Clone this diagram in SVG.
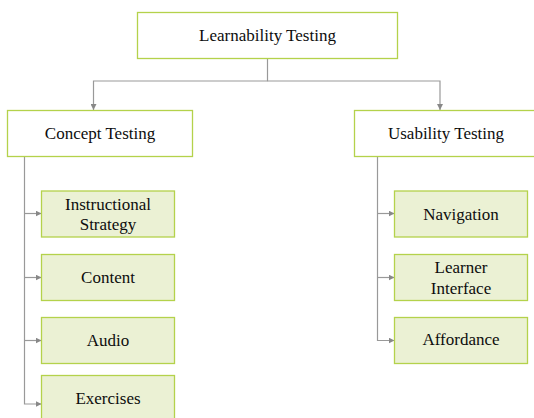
<svg xmlns="http://www.w3.org/2000/svg" width="534" height="418" viewBox="0 0 534 418">
  <style>
    .box { stroke: #b4d24b; stroke-width: 1.3; }
    .main { fill: #ffffff; }
    .sub { fill: #ebf1d4; }
    .lbl { font-size: 17px; fill: #0d0d0d; text-anchor: middle; }
    .ln { fill: none; stroke: #999999; stroke-width: 1.2; }
  </style>
  <defs>
    <marker id="arrow" viewBox="0 0 6 6" refX="6" refY="3" markerWidth="6" markerHeight="6" markerUnits="userSpaceOnUse" orient="auto">
      <path d="M0,0 L6,3 L0,6 Z" fill="#888888"/>
    </marker>
  </defs>

  <g id="connectors">
    <path class="ln" d="M267.5,58.5 V81 H93.5 V110" marker-end="url(#arrow)"/>
    <path class="ln" d="M267.5,81 H440 V110" marker-end="url(#arrow)"/>
    <path class="ln" d="M24.5,156 V404 H41.5" marker-end="url(#arrow)"/>
    <path class="ln" d="M24.5,213.5 H41.5" marker-end="url(#arrow)"/>
    <path class="ln" d="M24.5,277.5 H41.5" marker-end="url(#arrow)"/>
    <path class="ln" d="M24.5,340.5 H41.5" marker-end="url(#arrow)"/>
    <path class="ln" d="M377.5,156 V340.5 H394.5" marker-end="url(#arrow)"/>
    <path class="ln" d="M377.5,213.5 H394.5" marker-end="url(#arrow)"/>
    <path class="ln" d="M377.5,277.5 H394.5" marker-end="url(#arrow)"/>
  </g>

  <g font-family="'Liberation Serif', 'DejaVu Serif', serif">
    <g id="learnability-testing">
      <rect class="box main" x="137.5" y="12.5" width="260" height="46"/>
      <text class="lbl" x="267.5" y="41">Learnability Testing</text>
    </g>
    <g id="concept-testing">
      <rect class="box main" x="7.5" y="110.5" width="185" height="46"/>
      <text class="lbl" x="100" y="138.5">Concept Testing</text>
    </g>
    <g id="usability-testing">
      <rect class="box main" x="354.5" y="110.5" width="185" height="46"/>
      <text class="lbl" x="446" y="138.5">Usability Testing</text>
    </g>

    <g id="instructional-strategy">
      <rect class="box sub" x="41.5" y="191" width="133" height="46"/>
      <text class="lbl" x="108" y="209.5">Instructional</text>
      <text class="lbl" x="108" y="230">Strategy</text>
    </g>
    <g id="content">
      <rect class="box sub" x="41.5" y="254.5" width="133" height="46"/>
      <text class="lbl" x="108" y="283">Content</text>
    </g>
    <g id="audio">
      <rect class="box sub" x="41.5" y="317.5" width="133" height="46"/>
      <text class="lbl" x="108" y="346">Audio</text>
    </g>
    <g id="exercises">
      <rect class="box sub" x="41.5" y="375.5" width="133" height="46"/>
      <text class="lbl" x="108" y="403.5">Exercises</text>
    </g>

    <g id="navigation">
      <rect class="box sub" x="394.5" y="191" width="133" height="46"/>
      <text class="lbl" x="461" y="219.5">Navigation</text>
    </g>
    <g id="learner-interface">
      <rect class="box sub" x="394.5" y="254.5" width="133" height="46"/>
      <text class="lbl" x="461" y="272.5">Learner</text>
      <text class="lbl" x="461" y="293.5">Interface</text>
    </g>
    <g id="affordance">
      <rect class="box sub" x="394.5" y="317.5" width="133" height="46"/>
      <text class="lbl" x="461" y="345">Affordance</text>
    </g>
  </g>
</svg>
